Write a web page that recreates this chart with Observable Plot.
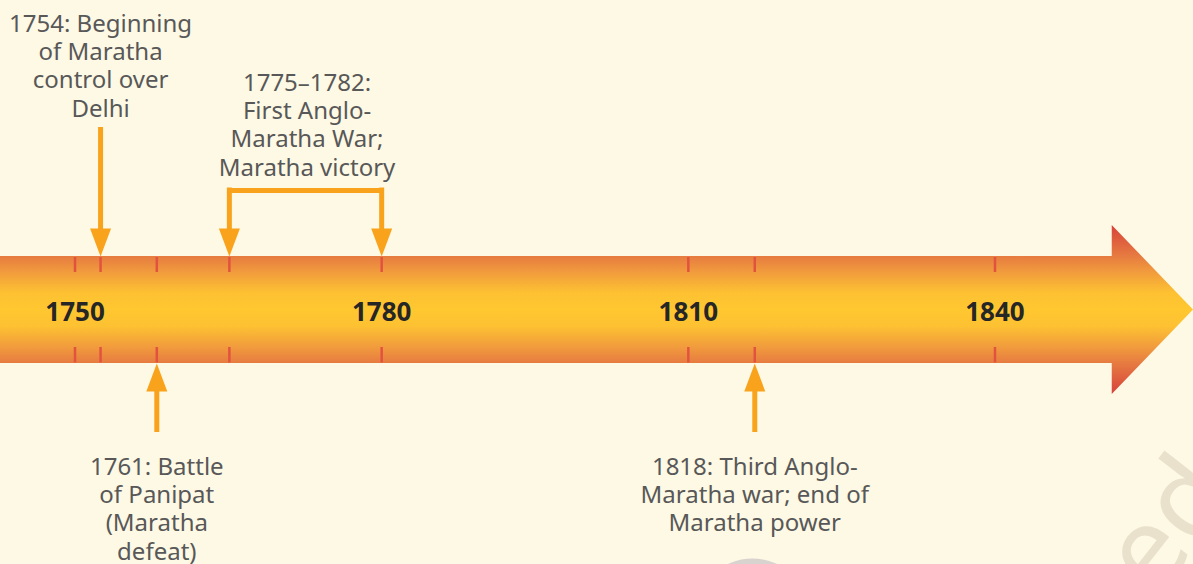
<!DOCTYPE html>
<html>
<head>
<meta charset="utf-8">
<script src="https://cdn.jsdelivr.net/npm/d3@7"></script>
<script src="https://cdn.jsdelivr.net/npm/@observablehq/plot@0.6"></script>
<style>
  html, body { margin: 0; padding: 0; background: #fef9e5; }
  #chart svg { display: block; }
</style>
</head>
<body>
<div id="chart"></div>
<script>
// ---- Data (positions on the drawn year scale) ----
const yearLabels = [1750, 1780, 1810, 1840];
const tickPositions = [1750, 1752.5, 1758, 1765.1, 1780, 1810, 1816.5, 1840];

const pointEventLabels = [
  "1754: Beginning\nof Maratha\ncontrol over\nDelhi",
  "1761: Battle\nof Panipat\n(Maratha\ndefeat)",
  "1818: Third Anglo-\nMaratha war; end of\nMaratha power"
];
const pointEventPositions = [1752.5, 1758, 1816.5];
const pointEventSides = ["top", "bottom", "bottom"];

const spanEventLabels = ["1775–1782:\nFirst Anglo-\nMaratha War;\nMaratha victory"];
const spanEventStarts = [1765.1];
const spanEventEnds = [1780];

// timeline extent (drawn scale)
const timelineStart = 1742.71;
const headStart = 1851.47;
const timelineTip = 1859.42;

// ---- Layout constants ----
const W = 1193, H = 564;
const bandTop = 256, bandBottom = 363, headTop = 225, headBottom = 394, mid = 309.5;
const arrowColor = "#f8a31b";
const tickColor = "#e2533f";
const textColor = "#585858";
const font = "Noto Sans";
const labelSize = 24, labelLH = 1.18;

const pointEvents = pointEventLabels.map((label, i) => ({label, pos: pointEventPositions[i], side: pointEventSides[i]}));
const spanEvents = spanEventLabels.map((label, i) => ({label, start: spanEventStarts[i], end: spanEventEnds[i]}));

const bandShape = [
  {x: timelineStart, y1: bandTop, y2: bandBottom},
  {x: headStart, y1: bandTop, y2: bandBottom},
  {x: headStart, y1: headTop, y2: headBottom},
  {x: timelineTip, y1: mid, y2: mid}
];

const downHead = {draw(ctx) { ctx.moveTo(-10.5, -28); ctx.lineTo(10.5, -28); ctx.lineTo(0, 0); ctx.closePath(); }};
const upHead = {draw(ctx) { ctx.moveTo(-10.5, 28); ctx.lineTo(10.5, 28); ctx.lineTo(0, 0); ctx.closePath(); }};

const topPoints = pointEvents.filter(d => d.side === "top");
const bottomPoints = pointEvents.filter(d => d.side === "bottom");
const spanEnds = spanEvents.flatMap(d => [{pos: d.start}, {pos: d.end}]);

const px = v => 1750 + (v - 74.5) / 10.222; // pixel column -> drawn-scale position (decorations only)

const chart = Plot.plot({
  width: W,
  height: H,
  margin: 0,
  style: {background: "#fef9e5", fontFamily: font, overflow: "hidden"},
  x: {domain: [timelineStart, timelineTip], range: [0, W], axis: null},
  y: {domain: [0, H], range: [0, H], axis: null},
  marks: [
    // watermark fragments
    Plot.text(["ed"], {x: () => px(1168), y: () => 525, text: d => d, rotate: -52,
      fontSize: 112, fill: "#e9e1cb", fontFamily: font, textAnchor: "middle"}),
    Plot.dot([0], {x: () => px(752), y: () => 616, r: 58, fill: "#d9d3cf", stroke: "none"}),
    // timeline arrow band
    Plot.areaY(bandShape, {x: "x", y1: "y1", y2: "y2", fill: "url(#bandGrad)", curve: "linear"}),
    // ticks
    Plot.ruleX(tickPositions, {x: d => d, y1: bandTop + 1, y2: bandTop + 16, stroke: tickColor, strokeWidth: 2.5}),
    Plot.ruleX(tickPositions, {x: d => d, y1: bandBottom - 16, y2: bandBottom - 0.5, stroke: tickColor, strokeWidth: 2.5}),
    // year labels
    Plot.text(yearLabels, {x: d => d, y: () => mid + 3, text: d => String(d), fontSize: 26, fontWeight: "bold",
      fill: "#262626", fontFamily: font, textAnchor: "middle", lineAnchor: "middle"}),
    // point events on top
    Plot.ruleX(topPoints, {x: "pos", y1: 127, y2: 229, stroke: arrowColor, strokeWidth: 5}),
    Plot.dot(topPoints, {x: "pos", y: () => bandTop, symbol: downHead, fill: arrowColor, stroke: "none", r: 10}),
    Plot.text(topPoints, {x: "pos", y: () => 11, text: "label", fontSize: labelSize, lineHeight: labelLH, lineAnchor: "top",
      fill: textColor, fontFamily: font, textAnchor: "middle"}),
    // point events below
    Plot.ruleX(bottomPoints, {x: "pos", y1: 390, y2: 432, stroke: arrowColor, strokeWidth: 5}),
    Plot.dot(bottomPoints, {x: "pos", y: () => bandBottom, symbol: upHead, fill: arrowColor, stroke: "none", r: 10}),
    Plot.text(bottomPoints, {x: "pos", y: () => 454, text: "label", fontSize: labelSize, lineHeight: labelLH, lineAnchor: "top",
      fill: textColor, fontFamily: font, textAnchor: "middle"}),
    // span events (bracket)
    Plot.ruleY(spanEvents, {y: () => 190, x1: "start", x2: "end", stroke: arrowColor, strokeWidth: 5}),
    Plot.ruleX(spanEnds, {x: "pos", y1: 187.5, y2: 229, stroke: arrowColor, strokeWidth: 5}),
    Plot.dot(spanEnds, {x: "pos", y: () => bandTop, symbol: downHead, fill: arrowColor, stroke: "none", r: 10}),
    Plot.text(spanEvents, {x: d => (d.start + d.end) / 2 + 0.15, y: () => 70, text: "label", fontSize: labelSize, lineHeight: labelLH,
      lineAnchor: "top", fill: textColor, fontFamily: font, textAnchor: "middle"})
  ]
});

// gradient definition for the band
const svg = d3.select(chart);
const defs = svg.insert("defs", ":first-child");
const grad = defs.append("linearGradient").attr("id", "bandGrad")
  .attr("gradientUnits", "userSpaceOnUse").attr("x1", 0).attr("x2", 0).attr("y1", headTop).attr("y2", headBottom);
[[0, "#d7423a"], [0.18, "#e67a41"], [0.28, "#f19c3d"], [0.4, "#fdc132"], [0.5, "#ffc730"],
 [0.6, "#fdc132"], [0.72, "#f19c3d"], [0.82, "#e67a41"], [1, "#d7423a"]]
  .forEach(([o, c]) => grad.append("stop").attr("offset", o).attr("stop-color", c));

document.getElementById("chart").appendChild(chart);
</script>
</body>
</html>
